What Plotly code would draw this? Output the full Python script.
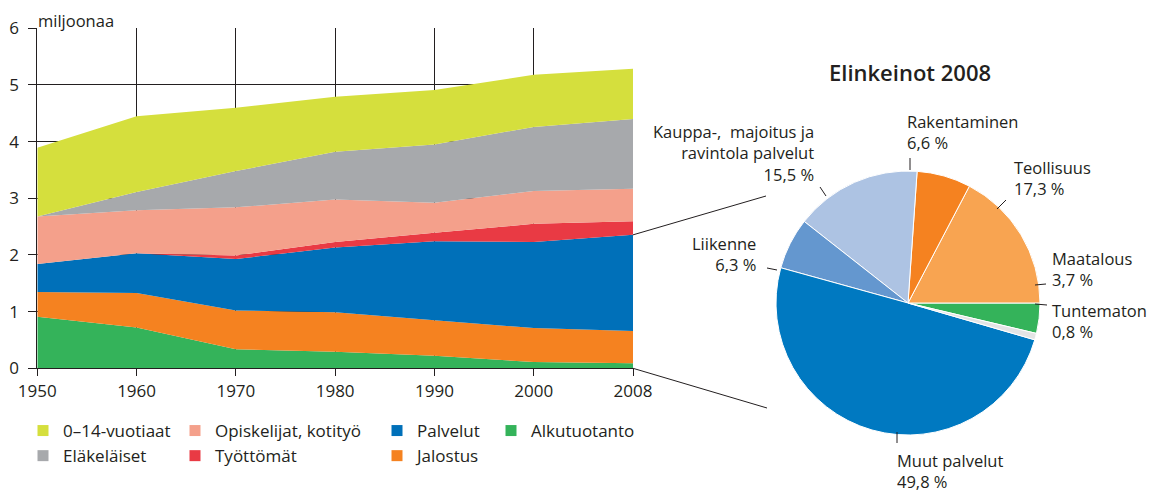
import plotly.graph_objects as go

W, H = 1155, 497
OFF = 8  # sivun oletusreunus siirtää kuvaa

# vasen kuva: väestö toiminnan mukaan (miljoonaa)
years = ["1950", "1960", "1970", "1980", "1990", "2000", "2008"]
alkutuotanto = [0.91, 0.72, 0.335, 0.29, 0.22, 0.11, 0.09]
jalostus = [0.435, 0.61, 0.685, 0.70, 0.63, 0.60, 0.57]
palvelut = [0.495, 0.70, 0.91, 1.14, 1.39, 1.52, 1.695]
tyottomat = [0.0, 0.0, 0.06, 0.10, 0.15, 0.32, 0.24]
opiskelijat = [0.84, 0.76, 0.85, 0.75, 0.53, 0.58, 0.575]
elakelaiset = [0.0, 0.32, 0.64, 0.84, 1.03, 1.13, 1.23]
lapset = [1.21, 1.34, 1.12, 0.97, 0.96, 0.92, 0.885]

# oikea kuva: elinkeinot 2008 (%)
pie_labels = ["Maatalous", "Teollisuus", "Rakentaminen",
              "Kauppa-,  majoitus ja<br>ravintola palvelut",
              "Liikenne", "Muut palvelut", "Tuntematon"]
pie_values = [3.7, 17.3, 6.6, 15.5, 6.3, 49.8, 0.8]
pie_colors = ["#34b35a", "#f8a451", "#f58220", "#adc3e3", "#6497cf", "#0079c1", "#e3e4e5"]

txt = "#231f20"
font = "Open Sans"


def px(x):
    return (x - OFF) / W


def py(y):
    return 1 - (y - OFF) / H


xdom = [px(37.3), px(633)]
ydom = [py(368.3), py(28.3)]

series = [
    ("Alkutuotanto", alkutuotanto, "#34b35a", "legend4"),
    ("Jalostus", jalostus, "#f58220", "legend3"),
    ("Palvelut", palvelut, "#0070b9", "legend3"),
    ("Työttömät", tyottomat, "#e93a44", "legend2"),
    ("Opiskelijat, kotityö", opiskelijat, "#f4a08b", "legend2"),
    ("Eläkeläiset", elakelaiset, "#a7a9ac", "legend"),
    ("0–14-vuotiaat", lapset, "#d5df3d", "legend"),
]

fig = go.Figure()
for name, vals, col, lg in series:
    fig.add_trace(go.Scatter(x=years, y=vals, name=name, stackgroup="one",
                             mode="lines", line=dict(width=0, color=col),
                             fillcolor=col, showlegend=False, hoverinfo="skip"))

# selitteet: neliömerkit, sarakkeittain
legend_rank = {"0–14-vuotiaat": 1, "Eläkeläiset": 2, "Opiskelijat, kotityö": 1,
               "Työttömät": 2, "Palvelut": 1, "Jalostus": 2, "Alkutuotanto": 1}
for name, vals, col, lg in series:
    fig.add_trace(go.Scatter(x=[None], y=[None], mode="markers", name=name,
                             marker=dict(symbol="square", size=11, color=col),
                             legend=lg, legendrank=legend_rank[name]))

fig.add_trace(go.Pie(labels=pie_labels, values=pie_values, sort=False,
                     direction="counterclockwise", rotation=90,
                     marker=dict(colors=pie_colors, line=dict(color="white", width=1)),
                     textinfo="none", hoverinfo="skip", showlegend=False,
                     domain=dict(x=[px(776), px(1040)], y=[py(435), py(171)])))

# pallon tekstit
label_pos = {
    "Maatalous": (1050, 269, "left"),
    "Teollisuus": (1012, 178, "left"),
    "Rakentaminen": (905, 132, "left"),
    "Kauppa-,  majoitus ja<br>ravintola palvelut": (816, 153, "right"),
    "Liikenne": (758, 254, "right"),
    "Muut palvelut": (895, 471, "left"),
    "Tuntematon": (1050, 321, "left"),
}
annotations = []
for lab, v in zip(pie_labels, pie_values):
    x, y, al = label_pos[lab]
    annotations.append(dict(
        text=lab + "<br>" + f"{v:.1f}".replace(".", ",") + " %",
        x=px(x), y=py(y), xref="paper", yref="paper", xanchor=al, yanchor="middle",
        align=al, showarrow=False, font=dict(size=16.5, color=txt, family=font)))

annotations.append(dict(text="Elinkeinot 2008", x=px(910), y=py(72), xref="paper", yref="paper",
                        xanchor="center", yanchor="middle", showarrow=False,
                        font=dict(size=22, color=txt, family=font, weight=600)))
annotations.append(dict(text="miljoonaa", x=px(36), y=py(20), xref="paper", yref="paper",
                        xanchor="left", yanchor="middle", showarrow=False,
                        font=dict(size=16.5, color=txt, family=font)))

leaders = [(910, 170, 910, 158), (997, 209, 1006, 200), (1035, 285, 1046, 284),
           (1035, 304, 1047, 305), (897, 432, 897, 443), (777, 270, 767, 268),
           (826, 196, 820, 187)]
shapes = [dict(type="line", xref="paper", yref="paper", x0=px(a), y0=py(b), x1=px(c), y1=py(d),
               line=dict(color=txt, width=1)) for a, b, c, d in leaders]

# yhdysviivat palvelujen osuudesta vuonna 2008 piirakkaan
top_2008 = alkutuotanto[-1] + jalostus[-1] + palvelut[-1]


def yval(v):
    return ydom[0] + v / 6 * (ydom[1] - ydom[0])


shapes.append(dict(type="line", xref="paper", yref="paper", x0=xdom[1], y0=yval(top_2008),
                   x1=px(766), y1=py(196), line=dict(color=txt, width=1)))
shapes.append(dict(type="line", xref="paper", yref="paper", x0=xdom[1], y0=yval(0),
                   x1=px(767), y1=py(408), line=dict(color=txt, width=1)))

leg = dict(orientation="v", yanchor="top", xanchor="left", y=py(413), traceorder="normal",
           font=dict(size=17, color=txt, family=font), bgcolor="rgba(0,0,0,0)",
           tracegroupgap=0, itemsizing="trace")

fig.update_layout(
    width=W, height=H, margin=dict(l=0, r=0, t=0, b=0, autoexpand=False),
    paper_bgcolor="white", plot_bgcolor="white",
    font=dict(family=font, color=txt),
    xaxis=dict(domain=xdom, type="category", range=[0, 6], showgrid=True, gridcolor="#231f20",
               gridwidth=1, showline=True, linecolor=txt, linewidth=1, ticks="outside",
               ticklen=7, tickcolor=txt, tickfont=dict(size=17, color=txt, family=font),
               fixedrange=True, zeroline=False, automargin=False),
    yaxis=dict(domain=ydom, range=[0, 6], dtick=1, showgrid=True, gridcolor="#231f20",
               gridwidth=1, showline=True, linecolor=txt, linewidth=1, ticks="outside",
               ticklen=8, tickcolor=txt, tickfont=dict(size=17, color=txt, family=font),
               ticklabelstandoff=6, zeroline=False, automargin=False),
    legend=dict(leg, x=px(23)),
    legend2=dict(leg, x=px(175)),
    legend3=dict(leg, x=px(377)),
    legend4=dict(leg, x=px(491)),
    annotations=annotations,
    shapes=shapes,
)

fig.write_html("out.html")
